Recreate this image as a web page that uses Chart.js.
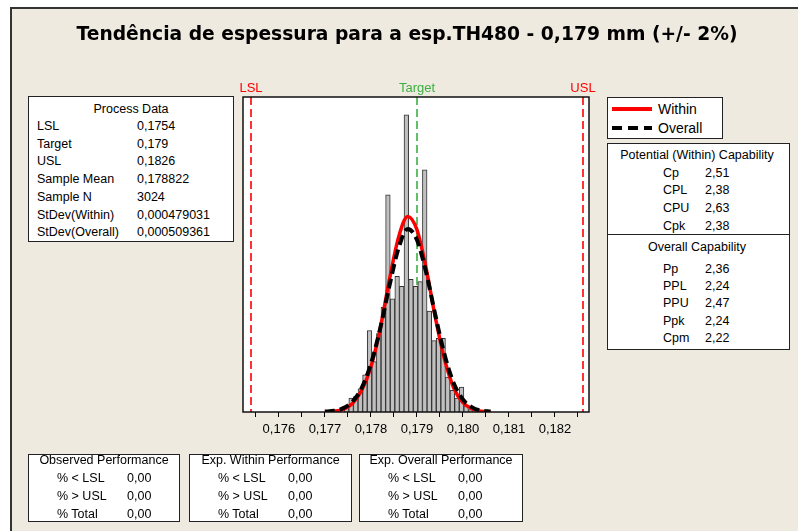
<!DOCTYPE html>
<html>
<head>
<meta charset="utf-8">
<script src="https://cdn.jsdelivr.net/npm/chart.js@4.4.1/dist/chart.umd.min.js"></script>
<style>
  body { margin: 0; width: 798px; height: 531px; overflow: hidden; background: #fff;
         font-family: 'Liberation Sans', Arial, sans-serif; color: #000; }
  #frame { position: absolute; left: 10px; top: 7px; width: 800px; height: 540px;
           background: #EEEAE0; border-left: 2px solid #333; border-top: 2px solid #333; }
  #chart { position: absolute; left: 0; top: 0; }
  #title { position: absolute; left: 0; width: 814px; top: 33px; transform: translateY(-50%);
           text-align: center; font-weight: bold; font-size: 18.7px; white-space: nowrap;
           font-family: 'DejaVu Sans', Verdana, sans-serif; }
  .box { position: absolute; background: #fff; border: 1.5px solid #222; box-sizing: border-box; }
  .t { position: absolute; white-space: nowrap; font-size: 12.5px; transform: translateY(-50%); }
  .c { transform: translate(-50%, -50%); }
</style>
</head>
<body>
<div id="frame"></div>
<canvas id="chart" width="798" height="531"></canvas>
<div id="title">Tendência de espessura para a esp.TH480 - 0,179 mm (+/- 2%)</div>
<div id="boxes"></div>
<script>
// histogram bins (centre of each bin) and counts
const binCenters = [0.17747, 0.17757, 0.17767, 0.17777, 0.17787, 0.17797, 0.17807, 0.17817,
  0.17827, 0.17837, 0.17847, 0.17857, 0.17867, 0.17877, 0.17887, 0.17897, 0.17907, 0.17917,
  0.17927, 0.17937, 0.17947, 0.17957, 0.17967, 0.17977, 0.17987, 0.17997, 0.18007, 0.18017];
const binCounts = [6, 18, 20, 30, 48, 105, 65, 101, 135, 280, 146, 175, 162, 383, 171, 162,
  168, 312, 130, 92, 95, 95, 45, 28, 18, 32, 8, 3];

// fitted curves, read at these x values
const curveX = [0.1770, 0.1772, 0.1774, 0.1776, 0.1778, 0.1780, 0.1782, 0.1784, 0.1786, 0.1788,
  0.1790, 0.1792, 0.1794, 0.1796, 0.1798, 0.1800, 0.1802, 0.1804, 0.1806];
const withinY = [0.3, 1, 3.5, 11, 28, 58, 107, 170, 225, 252, 235, 185, 122, 68, 31, 12, 4, 1, 0.3];
const overallY = [0.5, 1.5, 5, 13.5, 31, 62, 107, 162, 211, 236, 222, 180, 125, 74, 37, 16, 6, 1.8, 0.5];

// spec limits
const specNames = ['LSL', 'Target', 'USL'];
const specValues = [0.1754, 0.179, 0.1826];

// x axis ticks
const tickValues = [0.1755, 0.176, 0.1765, 0.177, 0.1775, 0.178, 0.1785, 0.179, 0.1795,
  0.180, 0.1805, 0.181, 0.1815, 0.182, 0.1825];
const tickMajor = [0.176, 0.177, 0.178, 0.179, 0.180, 0.181, 0.182];
const tickLabels = ['0,176', '0,177', '0,178', '0,179', '0,180', '0,181', '0,182'];

// tables
const processLabels = ['LSL', 'Target', 'USL', 'Sample Mean', 'Sample N', 'StDev(Within)', 'StDev(Overall)'];
const processValues = ['0,1754', '0,179', '0,1826', '0,178822', '3024', '0,000479031', '0,000509361'];
const withinCapLabels = ['Cp', 'CPL', 'CPU', 'Cpk'];
const withinCapValues = ['2,51', '2,38', '2,63', '2,38'];
const overallCapLabels = ['Pp', 'PPL', 'PPU', 'Ppk', 'Cpm'];
const overallCapValues = ['2,36', '2,24', '2,47', '2,24', '2,22'];
const perfTitles = ['Observed Performance', 'Exp. Within Performance', 'Exp. Overall Performance'];
const perfLabels = ['% < LSL', '% > USL', '% Total'];
const perfValues = [['0,00', '0,00', '0,00'], ['0,00', '0,00', '0,00'], ['0,00', '0,00', '0,00']];

const RED = '#FF0000';
const GREEN = '#3CB043';
const specColors = [RED, GREEN, RED];

const boxesEl = document.getElementById('boxes');
function box(x, y, w, h) {
  const d = document.createElement('div');
  d.className = 'box';
  Object.assign(d.style, { left: x + 'px', top: y + 'px', width: w + 'px', height: h + 'px' });
  boxesEl.appendChild(d);
  return d;
}
function txt(x, y, s, centered, extra) {
  const d = document.createElement('div');
  d.className = centered ? 't c' : 't';
  d.textContent = s;
  Object.assign(d.style, { left: x + 'px', top: y + 'px' }, extra || {});
  boxesEl.appendChild(d);
  return d;
}

// Process Data
box(28, 96, 206, 146);
txt(131, 108.5, 'Process Data', true);
processLabels.forEach((l, i) => {
  txt(37, 126 + i * 17.7, l);
  txt(137, 126 + i * 17.7, processValues[i]);
});

// legend
const lg = box(607, 97, 116, 42);
lg.innerHTML = '<svg width="113" height="39" style="position:absolute;left:0;top:0">' +
  '<line x1="4" y1="11" x2="44" y2="11" stroke="' + RED + '" stroke-width="4"/>' +
  '<line x1="4" y1="30" x2="44" y2="30" stroke="#000" stroke-width="4" stroke-dasharray="10,6"/></svg>';
txt(658, 109, 'Within', false, { fontSize: '14px' });
txt(658, 128, 'Overall', false, { fontSize: '14px' });

// capability
box(607, 143, 183, 207);
const div = document.createElement('div');
Object.assign(div.style, { position: 'absolute', left: '607px', top: '233.5px', width: '183px', height: '1.5px', background: '#222' });
boxesEl.appendChild(div);
txt(697, 155, 'Potential (Within) Capability', true);
withinCapLabels.forEach((l, i) => {
  txt(663, 172.5 + i * 17.7, l);
  txt(705, 172.5 + i * 17.7, withinCapValues[i]);
});
txt(697, 247, 'Overall Capability', true);
overallCapLabels.forEach((l, i) => {
  txt(663, 269 + i * 17.2, l);
  txt(705, 269 + i * 17.2, overallCapValues[i]);
});

// performance tables
const perfBoxes = [[28, 152], [189, 163], [359, 164]];
perfBoxes.forEach(([x, w], k) => {
  box(x, 454, w, 68);
  txt(x + w / 2, 459.5, perfTitles[k], true);
  perfLabels.forEach((l, i) => {
    txt(x + 29, 477.5 + i * 18, l);
    txt(x + 99, 477.5 + i * 18, perfValues[k][i]);
  });
});

const specPlugin = {
  id: 'specLines',
  beforeDraw(chart) {
    const a = chart.chartArea, c = chart.ctx;
    c.save();
    c.fillStyle = '#fff';
    c.fillRect(a.left, a.top, a.right - a.left, a.bottom - a.top);
    c.restore();
  },
  beforeDatasetsDraw(chart) {
    const a = chart.chartArea, c = chart.ctx, x = chart.scales.x;
    c.save();
    specValues.forEach((v, i) => {
      const px = Math.round(x.getPixelForValue(v));
      c.strokeStyle = specColors[i];
      c.lineWidth = 1.6;
      c.setLineDash([8, 4]);
      c.beginPath();
      c.moveTo(px, a.top);
      c.lineTo(px, a.bottom);
      c.stroke();
      c.setLineDash([]);
      c.fillStyle = specColors[i];
      c.font = '13px "Liberation Sans", Arial, sans-serif';
      c.textAlign = 'center';
      c.textBaseline = 'middle';
      c.fillText(specNames[i], px, a.top - 9);
    });
    c.restore();
  },
  afterDatasetsDraw(chart) {
    const a = chart.chartArea, c = chart.ctx;
    c.save();
    c.strokeStyle = '#111';
    c.lineWidth = 1.5;
    c.strokeRect(a.left, a.top, a.right - a.left, a.bottom - a.top);
    c.restore();
  }
};

new Chart(document.getElementById('chart'), {
  type: 'bar',
  data: {
    datasets: [
      {
        type: 'line',
        label: 'Overall',
        data: curveX.map((x, i) => ({ x, y: overallY[i] })),
        borderColor: '#000',
        borderWidth: 4,
        borderDash: [10, 5],
        pointRadius: 0,
        cubicInterpolationMode: 'monotone',
        order: 1,
      },
      {
        type: 'line',
        label: 'Within',
        data: curveX.map((x, i) => ({ x, y: withinY[i] })),
        borderColor: RED,
        borderWidth: 3.5,
        pointRadius: 0,
        cubicInterpolationMode: 'monotone',
        order: 2,
      },
      {
        type: 'bar',
        label: 'Counts',
        data: binCenters.map((x, i) => ({ x, y: binCounts[i] })),
        backgroundColor: '#C0C0C0',
        borderColor: '#333',
        borderWidth: 1,
        barPercentage: 1,
        categoryPercentage: 1,
        order: 3,
      },
    ],
  },
  options: {
    responsive: false,
    animation: false,
    layout: { padding: { left: 243, right: 209, top: 97, bottom: 79 } },
    plugins: { legend: { display: false }, tooltip: { enabled: false } },
    scales: {
      x: {
        type: 'linear',
        offset: false,
        min: 0.17522,
        max: 0.18274,
        afterBuildTicks: (scale) => { scale.ticks = tickValues.map((v) => ({ value: v })); },
        afterFit: (scale) => { scale.height = 40; },
        border: { display: false },
        grid: { offset: false, drawOnChartArea: false, drawTicks: true, tickLength: 5, color: '#000' },
        ticks: {
          autoSkip: false,
          maxRotation: 0,
          padding: 5,
          color: '#000',
          font: { family: "'Liberation Sans', Arial, sans-serif", size: 13 },
          callback: function (value) {
            const i = tickMajor.findIndex((m) => Math.abs(m - value) < 1e-7);
            return i >= 0 ? tickLabels[i] : '';
          },
        },
      },
      y: { display: false, min: 0, max: 406 },
    },
  },
  plugins: [specPlugin],
});
</script>
</body>
</html>
